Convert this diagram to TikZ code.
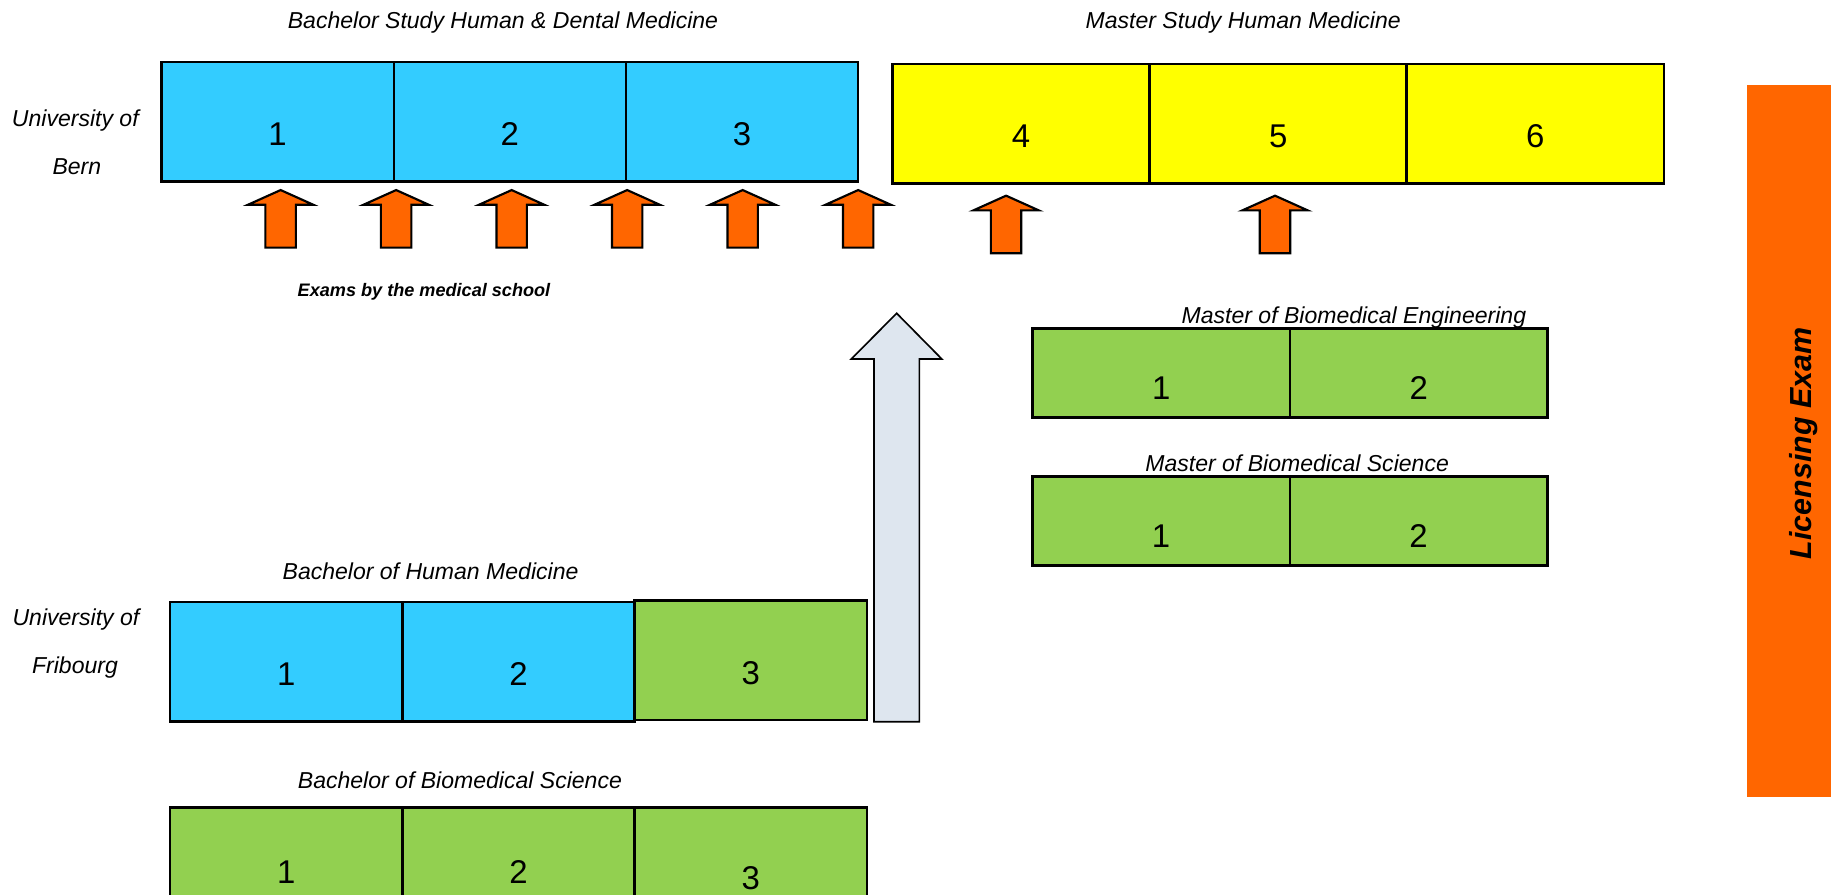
\documentclass[tikz,border=0pt]{standalone}
\usepackage{fontspec}
\setmainfont{Liberation Sans}
\usepackage{xcolor}
\usetikzlibrary{positioning}
\definecolor{semblue}{HTML}{33CCFF}
\definecolor{semyellow}{HTML}{FFFF00}
\definecolor{semgreen}{HTML}{92D050}
\definecolor{examorange}{HTML}{FF6600}
\definecolor{arrowgray}{HTML}{DEE6EF}
\tikzset{
	% one semester
	sem/.style={
		draw,
		line width=1.5pt,
		inner sep=0pt,
		outer sep=0pt,
		minimum width=4.96cm,
		minimum height=2.555cm,
		font=\fontsize{20}{24}\selectfont,
		text height=29.3pt,
		text depth=0pt
	}, %
	% one semester of a master
	mastersem/.style={
		minimum width=5.5cm,
		minimum height=1.9cm,
		text height=32.7pt
	}, %
	% titles of the studies
	studytitle/.style={
		anchor=base,
		font=\fontsize{14}{17}\selectfont\itshape
	}, %
	% exam arrow
	exam/.style={
		draw,
		line width=1.3pt,
		fill=examorange
	} %
}

\begin{document}
\begin{tikzpicture}[x=0.025cm, y=-0.025cm]
			\clip (0,0) rectangle (1568,764);
			
			%% University of Bern
			\node [studytitle] (bachbern) at (429.8,24.2) {Bachelor Study Human \& Dental Medicine};
			\node [studytitle] (mastbern) at (1062.3,24.2) {Master Study Human Medicine};
			\node [studytitle] (unibern) at (64.4,108.3) {University of};
			\node [studytitle] (bern) at (65.7,149) {Bern};
			
			\node [sem, fill=semblue] (bern1) at (237.25,104.1) {1};
			\node [sem, fill=semblue, right=0pt of bern1] (bern2) {2};
			\node [sem, fill=semblue, right=0pt of bern2] (bern3) {3};
			
			\node [sem, fill=semyellow, minimum width=5.49cm, minimum height=2.55cm] (bern4) at (872.55,105.7) {4};
			\node [sem, fill=semyellow, minimum width=5.49cm, minimum height=2.55cm, right=0pt of bern4] (bern5) {5};
			\node [sem, fill=semyellow, minimum width=5.49cm, minimum height=2.55cm, right=0pt of bern5] (bern6) {6};
			
			%% exams
			\foreach \x/\y in {239.8/162.4, 338.5/162.4, 437.2/162.4, 535.9/162.4, 634.6/162.4, 733.3/162.4, 859.7/167.2, 1089.5/167.2} {
				\draw [exam] (\x,\y) -- ++(28,12.6) -- ++(-15,0) -- ++(0,36.6) -- ++(-26,0) -- ++(0,-36.6) -- ++(-15,0) -- cycle;
			}
			\node [anchor=base, font=\fontsize{11}{13}\selectfont\bfseries\itshape] (exams) at (362.3,253.5) {Exams by the medical school};
			
			%% transfer to the master
			\draw [line width=1pt, fill=arrowgray] (766.2,267.7) -- (804.8,306.8) -- (785.6,306.8) -- (785.6,616.7)
				-- (746.8,616.7) -- (746.8,306.8) -- (727.4,306.8) -- cycle;
			
			%% Biomedical masters
			\node [studytitle] (mbe) at (1156.9,276.3) {Master of Biomedical Engineering};
			\node [sem, mastersem, fill=semgreen] (mbe1) at (992.2,318.75) {1};
			\node [sem, mastersem, fill=semgreen, right=0pt of mbe1] (mbe2) {2};
			
			\node [studytitle] (mbs) at (1108.4,402.5) {Master of Biomedical Science};
			\node [sem, mastersem, fill=semgreen] (mbs1) at (992.1,445.15) {1};
			\node [sem, mastersem, fill=semgreen, right=0pt of mbs1] (mbs2) {2};
			
			%% University of Fribourg
			\node [studytitle] (bhm) at (367.9,495.6) {Bachelor of Human Medicine};
			\node [studytitle] (unifrib) at (64.9,534.6) {University of};
			\node [studytitle] (frib) at (64.1,575.3) {Fribourg};
			
			\node [sem, fill=semblue] (frib1) at (244.65,565.55) {1};
			\node [sem, fill=semblue, right=0pt of frib1] (frib2) {2};
			\node [sem, fill=semgreen, right=0pt of frib2, yshift=1pt] (frib3) {3};
			
			\node [studytitle] (bbs) at (393,673.6) {Bachelor of Biomedical Science};
			\node [sem, fill=semgreen, text height=19.9pt] (bbs1) at (244.65,741) {1};
			\node [sem, fill=semgreen, text height=19.9pt, right=0pt of bbs1] (bbs2) {2};
			\node [sem, fill=semgreen, text height=27.7pt, right=0pt of bbs2] (bbs3) {3};
			
			%% Licensing exam
			\node [fill=examorange, inner sep=0pt, minimum width=1.79cm, minimum height=15.2cm] (licence) at (1528.65,377) {};
			\node [rotate=90, anchor=base, font=\fontsize{18.5}{22}\selectfont\bfseries\itshape] (licencetext) at (1548,379) {Licensing Exam};
		\end{tikzpicture}
\end{document}
